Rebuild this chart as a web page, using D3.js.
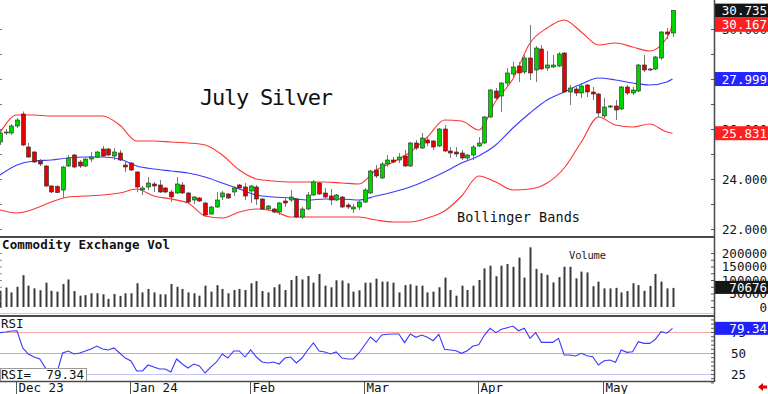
<!DOCTYPE html>
<html>
<head>
<meta charset="utf-8">
<script src="https://cdn.jsdelivr.net/npm/d3@7"></script>
<style>
  body { margin: 0; background: #fff; }
  svg { display: block; }
  text { font-family: "DejaVu Sans Mono", monospace; }
</style>
</head>
<body>
<svg id="chart" width="768" height="394"></svg>
<script>
// July Silver daily bars, Nov 28 2023 .. May 17 2024
const open = [25.48,25.86,25.84,26.12,26.60,25.28,25.08,24.72,24.52,23.72,
  23.70,23.56,24.52,24.96,24.68,24.52,24.80,24.88,25.20,25.20,
  24.92,25.04,24.56,24.64,24.28,23.56,23.68,23.80,23.76,23.64,
  23.48,23.44,23.76,23.44,23.16,23.24,23.04,22.60,22.88,23.28,
  23.40,23.48,23.76,23.68,23.52,23.68,23.20,22.80,22.80,22.68,
  23.12,23.16,23.20,22.48,22.80,23.36,23.84,23.44,23.32,23.16,
  23.28,22.96,22.80,22.88,23.08,23.44,24.36,24.04,24.60,24.76,
  24.76,24.92,24.52,25.44,25.24,25.56,25.52,25.32,26.00,25.12,
  25.08,25.04,24.84,24.96,25.32,25.44,26.48,27.52,27.32,27.84,
  28.20,28.52,28.28,28.84,28.36,29.20,28.44,28.48,28.52,29.04,
  27.48,27.60,27.44,27.76,27.48,27.40,26.52,26.88,26.92,26.80,
  27.68,27.44,27.52,28.56,28.38,28.40,28.84,29.88,29.84];
const high = [25.96,26.00,26.20,26.44,26.70,25.44,25.12,24.80,24.56,23.76,
  23.76,24.52,24.96,25.00,24.76,24.84,25.08,25.12,25.32,25.24,
  25.24,25.16,24.68,24.68,24.32,23.72,24.08,23.88,23.96,23.68,
  23.56,24.08,23.88,23.48,23.32,23.28,23.08,22.92,23.48,23.52,
  23.44,23.72,23.80,23.84,23.76,23.76,23.24,22.96,22.84,23.08,
  23.28,23.56,23.24,22.88,23.48,23.96,23.88,23.64,23.60,23.40,
  23.32,23.04,23.00,23.16,23.64,24.36,24.56,24.68,24.96,24.88,
  25.04,25.16,25.48,25.56,25.84,25.68,25.56,26.04,26.16,25.28,
  25.28,25.16,25.00,25.36,25.68,26.52,27.60,27.64,27.88,28.44,
  28.68,28.68,28.96,30.16,29.32,29.36,29.12,28.96,29.08,29.08,
  27.76,27.68,27.84,27.80,27.68,27.44,27.24,26.96,27.16,27.72,
  27.76,27.68,28.60,28.96,28.44,28.92,29.92,30.04,30.76];
const low = [25.36,25.76,25.76,26.04,25.32,24.84,24.64,24.52,23.68,23.44,
  23.44,23.24,24.48,24.44,24.44,24.48,24.68,24.84,24.88,24.92,
  24.76,24.72,24.28,24.32,23.48,23.36,23.56,23.48,23.44,23.44,
  23.08,23.40,23.40,23.04,23.00,23.08,22.48,22.56,22.84,23.16,
  23.20,23.32,23.60,23.16,23.04,22.96,22.76,22.76,22.64,22.56,
  22.88,23.08,22.44,22.40,22.76,23.32,23.36,23.24,22.96,23.12,
  22.84,22.80,22.64,22.76,23.04,23.40,24.04,24.00,24.48,24.64,
  24.64,24.48,24.48,25.16,25.20,25.32,25.16,25.28,25.08,24.84,
  24.88,24.76,24.76,24.76,25.28,25.40,26.44,27.16,26.68,27.68,
  28.08,27.88,28.20,27.96,27.88,28.36,28.32,28.44,28.48,27.44,
  26.96,27.32,27.24,27.28,27.16,26.48,26.44,26.84,26.36,26.76,
  27.36,27.36,27.48,28.28,28.32,28.36,28.76,29.60,29.68];
const close = [25.84,25.88,26.12,26.36,25.36,24.88,24.68,24.60,23.72,23.48,
  23.46,24.48,24.84,24.48,24.52,24.80,24.88,25.08,24.92,24.96,
  25.08,24.76,24.48,24.36,23.68,23.64,23.84,23.72,23.48,23.48,
  23.28,23.80,23.44,23.08,23.28,23.12,22.56,22.88,23.16,23.44,
  23.24,23.64,23.64,23.32,23.72,23.20,22.80,22.92,22.68,23.04,
  23.04,23.28,22.48,22.80,23.36,23.88,23.40,23.28,23.16,23.36,
  22.88,22.88,22.88,23.08,23.56,24.32,24.12,24.60,24.76,24.68,
  24.88,24.52,25.44,25.24,25.64,25.44,25.28,26.00,25.12,25.04,
  25.00,24.84,24.96,25.28,25.44,26.48,27.56,27.24,27.84,28.24,
  28.48,28.24,28.84,28.24,29.24,28.40,28.56,28.56,29.00,27.48,
  27.64,27.44,27.72,27.48,27.40,26.64,26.88,26.92,26.76,27.68,
  27.44,27.56,28.56,28.36,28.40,28.88,29.88,29.80,30.735];
const volume = [60,72,54,75,118,79,69,62,90,60,
  57,85,102,59,42,44,51,51,47,30,
  48,41,51,51,88,54,67,54,47,47,
  85,75,67,54,51,42,79,57,81,67,
  51,63,67,63,88,96,59,54,73,84,
  63,100,115,102,115,90,122,79,73,99,
  98,88,57,62,90,90,105,94,94,90,
  54,81,84,79,79,54,57,73,109,63,
  42,79,63,79,100,143,153,114,153,159,
  149,183,109,221,141,125,119,91,111,149,
  149,106,131,128,77,94,69,69,71,54,
  59,88,81,60,78,122,94,69,70.676].map(v => v * 1000);
const rsi = [74.2,75.0,76.2,76.5,56.0,48.8,45.2,42.9,32.1,26.2,
  26.2,50.0,52.4,48.8,50.0,52.4,54.8,58.3,54.8,53.6,
  56.0,50.0,44.0,40.5,28.6,28.6,35.7,33.3,31.0,31.0,
  27.4,42.9,36.9,32.1,36.9,34.5,26.2,33.3,39.3,48.8,
  44.0,52.4,52.4,45.2,53.6,45.2,39.3,38.1,39.3,36.9,
  44.0,45.2,38.1,44.0,53.6,61.9,52.4,51.2,48.8,51.2,
  44.0,42.9,42.9,50.0,59.5,69.0,63.1,71.4,72.3,72.6,
  72.6,62.3,72.6,68.7,71.4,68.7,64.6,72.3,54.4,53.6,
  52.7,49.6,52.7,58.3,59.9,71.4,79.4,74.2,78.2,80.1,
  82.1,76.5,79.4,67.5,74.2,62.7,62.7,62.7,67.5,47.6,
  47.6,46.4,49.6,46.8,45.6,35.7,40.8,41.7,38.9,53.6,
  50.8,51.5,63.5,61.5,61.5,66.3,75.4,73.5,79.34];

// Bollinger bands at every third bar
const bandIdx = [0,3,6,9,12,15,18,21,24,27,30,33,36,39,42,45,48,51,54,57,
  60,63,66,69,72,75,78,81,84,87,90,93,96,99,102,105,108,111,114,117,118];
const bandUpper = [25.84,26.56,26.56,26.52,26.52,26.52,26.52,26.16,25.52,25.52,
  25.48,25.44,25.36,24.96,24.36,24.00,23.92,23.88,23.88,23.88,
  23.84,23.80,24.36,24.68,25.08,25.68,26.36,26.32,25.96,27.12,
  28.00,29.44,30.04,30.36,29.88,29.36,29.44,29.28,29.12,29.64,30.167];
const bandMid = [24.16,24.56,24.72,24.76,24.84,24.88,24.88,24.80,24.52,24.40,
  24.32,24.24,24.08,23.84,23.60,23.36,23.28,23.24,23.16,23.20,
  23.20,23.16,23.32,23.48,23.68,23.96,24.28,24.64,24.92,25.36,
  26.04,26.64,27.16,27.48,27.80,28.04,27.96,27.84,27.76,27.88,27.999];
const bandLower = [22.76,22.64,22.80,23.08,23.28,23.32,23.36,23.44,23.60,23.32,
  23.20,23.04,22.52,22.44,22.68,22.80,22.72,22.48,22.48,22.48,
  22.48,22.48,22.36,22.28,22.28,22.44,22.72,23.32,24.12,23.88,
  23.56,23.60,23.84,24.44,25.48,26.48,26.16,26.08,26.20,25.88,25.831];

const monthLabels = ["Dec 23", "Jan 24", "Feb", "Mar", "Apr", "May"];
const monthStart = [3, 23, 44, 64, 84, 106];
const priceTicks = [22, 24, 26, 28, 30];
const volTicks = [0, 50000, 100000, 150000, 200000];
const rsiTicks = [25, 50, 75];

const svg = d3.select('#chart');
const plotR = 714;

const x = d3.scaleLinear().domain([3, 118]).range([17, 672.5]);
const yP = d3.scaleLinear().domain([22, 30]).range([229, 29]);
const yV = d3.scaleLinear().domain([0, 200000]).range([307, 253]);
const yR = d3.scaleLinear().domain([25, 75]).range([374, 332]);
const px = i => Math.round(x(i)) + 0.5;

/* ---------- price panel ---------- */
const price = svg.append('g');

price.append('text').attr('x', 200).attr('y', 105)
  .attr('font-size', 22).attr('textLength', 133).attr('lengthAdjust', 'spacing')
  .attr('fill', '#111').text('July Silver');
price.append('text').attr('x', 457).attr('y', 222)
  .attr('font-size', 13.5).attr('textLength', 123).attr('lengthAdjust', 'spacing')
  .attr('fill', '#111').text('Bollinger Bands');

const bandLine = arr => d3.line()
  .x((d, k) => x(bandIdx[k]))
  .y(d => yP(d))
  .curve(d3.curveMonotoneX)(arr);

price.append('path').attr('d', bandLine(bandUpper))
  .attr('fill', 'none').attr('stroke', '#ff3535').attr('stroke-width', 1.1);
price.append('path').attr('d', bandLine(bandLower))
  .attr('fill', 'none').attr('stroke', '#ff3535').attr('stroke-width', 1.1);
price.append('path').attr('d', bandLine(bandMid))
  .attr('fill', 'none').attr('stroke', '#3a3aff').attr('stroke-width', 1.1);

const bars = open.map((o, i) => ({ i, o, h: high[i], l: low[i], c: close[i] }));

price.selectAll('.wick').data(bars).enter().append('line')
  .attr('x1', d => px(d.i)).attr('x2', d => px(d.i))
  .attr('y1', d => yP(d.h)).attr('y2', d => yP(d.l))
  .attr('stroke', '#7a7a7a').attr('stroke-width', 1);

price.selectAll('.body').data(bars).enter().append('rect')
  .attr('x', d => Math.round(x(d.i)) - 1.5)
  .attr('width', 4)
  .attr('y', d => yP(Math.max(d.o, d.c)))
  .attr('height', d => Math.max(1, Math.abs(yP(d.o) - yP(d.c))))
  .attr('fill', d => d.c >= d.o ? '#00d400' : '#e60000')
  .attr('stroke', '#2a2a2a').attr('stroke-width', 0.6);

// right price axis
const pAxis = price.append('g').attr('transform', `translate(${plotR},0)`)
  .call(d3.axisRight(yP).tickValues(priceTicks).tickSize(0).tickPadding(8)
    .tickFormat(d3.format('.3f')));
pAxis.select('.domain').remove();
pAxis.selectAll('text').attr('font-size', 12.5).attr('fill', '#111')
  .attr('font-family', '"DejaVu Sans Mono", monospace');

price.append('g').attr('transform', `translate(${plotR},0)`)
  .call(d3.axisLeft(yP).tickValues(d3.range(22, 31, 1)).tickSize(3).tickFormat(''))
  .call(g => g.select('.domain').remove())
  .selectAll('line').attr('stroke', '#555');
price.append('g').attr('transform', 'translate(0,0)')
  .call(d3.axisRight(yP).tickValues(d3.range(22, 31, 1)).tickSize(2).tickFormat(''))
  .call(g => g.select('.domain').remove())
  .selectAll('line').attr('stroke', '#777');

const priceBoxes = [
  { v: close[close.length - 1], fill: '#151515', label: '30.735' },
  { v: bandUpper[bandUpper.length - 1], fill: '#ff1f1f', label: '30.167' },
  { v: bandMid[bandMid.length - 1], fill: '#2424ff', label: '27.999' },
  { v: bandLower[bandLower.length - 1], fill: '#ff1f1f', label: '25.831' }
];
priceBoxes.forEach(b => {
  price.append('rect').attr('x', plotR + 1).attr('y', yP(b.v) - 7)
    .attr('width', 768 - plotR - 1).attr('height', 14).attr('fill', b.fill);
  price.append('text').attr('x', 767).attr('y', yP(b.v) + 4.5).attr('text-anchor', 'end')
    .attr('font-size', 12.5).attr('fill', '#fff').text(b.label);
});

/* ---------- volume panel ---------- */
const vol = svg.append('g');
vol.append('text').attr('x', 2).attr('y', 249).attr('font-size', 12.5)
  .attr('font-weight', 'bold').attr('textLength', 168).attr('lengthAdjust', 'spacing')
  .attr('fill', '#111').text('Commodity Exchange Vol');
vol.append('text').attr('x', 569).attr('y', 259).attr('font-size', 10.5)
  .attr('textLength', 37).attr('lengthAdjust', 'spacing')
  .attr('fill', '#222').text('Volume');

vol.selectAll('.vbar').data(volume).enter().append('line')
  .attr('x1', (d, i) => Math.round(x(i)) + 0.5).attr('x2', (d, i) => Math.round(x(i)) + 0.5)
  .attr('y1', yV(0)).attr('y2', d => yV(d))
  .attr('stroke', '#3a3a3a').attr('stroke-width', 2);

const vAxis = vol.append('g').attr('transform', `translate(${plotR},0)`)
  .call(d3.axisRight(yV).tickValues(volTicks).tickSize(0).tickPadding(53)
    .tickFormat(d3.format('d')));
vAxis.select('.domain').remove();
vAxis.selectAll('text').attr('font-size', 12.5).attr('text-anchor', 'end')
  .attr('fill', '#111').attr('font-family', '"DejaVu Sans Mono", monospace');
vol.append('g').attr('transform', `translate(${plotR},0)`)
  .call(d3.axisLeft(yV).tickValues(d3.range(0, 225000, 25000)).tickSize(3).tickFormat(''))
  .call(g => g.select('.domain').remove())
  .selectAll('line').attr('stroke', '#555');
vol.append('g')
  .call(d3.axisRight(yV).tickValues(d3.range(0, 225000, 25000)).tickSize(2).tickFormat(''))
  .call(g => g.select('.domain').remove())
  .selectAll('line').attr('stroke', '#888');

const lastVol = volume[volume.length - 1];
vol.append('rect').attr('x', plotR + 1).attr('y', yV(lastVol) - 7)
  .attr('width', 768 - plotR - 1).attr('height', 13).attr('fill', '#151515');
vol.append('text').attr('x', 767).attr('y', yV(lastVol) + 4.5).attr('text-anchor', 'end')
  .attr('font-size', 12.5).attr('fill', '#fff').text(d3.format('d')(lastVol));

/* ---------- RSI panel ---------- */
const rp = svg.append('g');
const gridCol = { 75: '#f3a6a6', 50: '#b4b4b4', 25: '#c4c4f6' };
rsiTicks.forEach(t => {
  rp.append('line').attr('x1', 0).attr('x2', plotR)
    .attr('y1', Math.round(yR(t)) + 0.5).attr('y2', Math.round(yR(t)) + 0.5)
    .attr('stroke', gridCol[t]).attr('stroke-width', 1);
});
rp.append('path')
  .attr('d', d3.line().x((d, i) => x(i)).y(d => yR(d))(rsi))
  .attr('fill', 'none').attr('stroke', '#3a3aff').attr('stroke-width', 1.1);

rp.append('text').attr('x', 1).attr('y', 328).attr('font-size', 12.5)
  .attr('fill', '#111').text('RSI');
rp.append('rect').attr('x', 0.5).attr('y', 368.5).attr('width', 86).attr('height', 13)
  .attr('fill', '#fff').attr('stroke', '#999');
rp.append('text').attr('x', 1).attr('y', 379).attr('font-size', 12.5)
  .attr('fill', '#111').text('RSI=');
rp.append('text').attr('x', 84).attr('y', 379).attr('font-size', 12.5)
  .attr('text-anchor', 'end').attr('fill', '#111').text(d3.format('.2f')(rsi[rsi.length - 1]));

const rAxis = rp.append('g').attr('transform', `translate(${plotR},0)`)
  .call(d3.axisRight(yR).tickValues(rsiTicks).tickSize(0).tickPadding(17));
rAxis.select('.domain').remove();
rAxis.selectAll('text').attr('font-size', 12.5).attr('fill', '#111')
  .attr('font-family', '"DejaVu Sans Mono", monospace');
rp.append('g').attr('transform', `translate(${plotR},0)`)
  .call(d3.axisLeft(yR).tickValues(d3.range(15, 95, 5)).tickSize(3).tickFormat(''))
  .call(g => g.select('.domain').remove())
  .selectAll('line').attr('stroke', '#555');

const lastRsi = rsi[rsi.length - 1];
rp.append('rect').attr('x', plotR + 1).attr('y', yR(lastRsi) - 6.5)
  .attr('width', 768 - plotR - 1).attr('height', 13).attr('fill', '#2020ff');
rp.append('text').attr('x', 767).attr('y', yR(lastRsi) + 4.5).attr('text-anchor', 'end')
  .attr('font-size', 12.5).attr('fill', '#fff').text(d3.format('.2f')(lastRsi));

/* ---------- frame & time axis ---------- */
const frame = svg.append('g').attr('stroke', '#4a4a4a');
frame.append('line').attr('x1', 0).attr('x2', plotR).attr('y1', 237).attr('y2', 237).attr('stroke-width', 2);
frame.append('line').attr('x1', 0).attr('x2', plotR).attr('y1', 313.5).attr('y2', 313.5)
  .attr('stroke', '#cfcfcf').attr('stroke-width', 1);
frame.append('line').attr('x1', 0).attr('x2', plotR).attr('y1', 316).attr('y2', 316).attr('stroke-width', 2);
frame.append('line').attr('x1', 0).attr('x2', plotR).attr('y1', 381.5).attr('y2', 381.5).attr('stroke-width', 1.5);
frame.append('line').attr('x1', plotR + 0.5).attr('x2', plotR + 0.5).attr('y1', 0).attr('y2', 382).attr('stroke-width', 1.5);

const months = svg.append('g');
monthStart.forEach((s, k) => {
  const mx = Math.round(x(s)) - 0.5;
  months.append('line').attr('x1', mx).attr('x2', mx).attr('y1', 382).attr('y2', 394)
    .attr('stroke', '#555').attr('stroke-width', 1);
  months.append('text').attr('x', mx + 2).attr('y', 392).attr('font-size', 12.5)
    .attr('fill', '#111').text(monthLabels[k]);
});

// little red arrow, bottom right
svg.append('path').attr('d', 'M758,387 L763,383 L763,385.5 L767,385.5 L767,388.5 L763,388.5 L763,391 Z')
  .attr('fill', '#e00000');
</script>
</body>
</html>
